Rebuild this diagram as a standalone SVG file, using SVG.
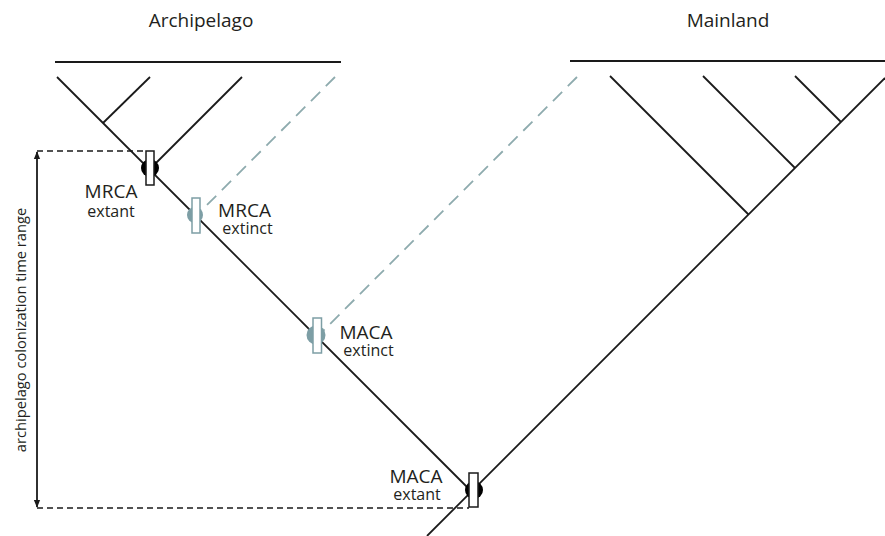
<svg xmlns="http://www.w3.org/2000/svg" width="885" height="536" viewBox="0 0 885 536">
<style>
.ln{stroke:#1a1a1a;stroke-width:1.8;fill:none;stroke-linecap:butt}
.dk{stroke:#1a1a1a;stroke-width:1.6;fill:none;stroke-dasharray:6 4}
.tl{stroke:#8eabae;stroke-width:1.8;fill:none;stroke-dasharray:13 8}
.t{font-family:"Open Sans","Liberation Sans",sans-serif;fill:#231f20}
.big{font-size:19px}
.sm{font-size:16px}
.ttl{font-size:19px}
.rx{fill:#ffffff;stroke-width:1.5}
</style>
<defs>
<marker id="ah" viewBox="0 0 10 10" refX="9" refY="5" markerWidth="8" markerHeight="8" orient="auto-start-reverse" markerUnits="userSpaceOnUse">
<path d="M0,1 L10,5 L0,9 Z" fill="#1a1a1a"/>
</marker>
</defs>
<rect width="885" height="536" fill="#ffffff"/>
<g id="connectors">
<line class="ln" x1="55" y1="62" x2="341" y2="62"/>
<line class="ln" x1="570" y1="61" x2="885" y2="61"/>
<line class="ln" x1="57" y1="77" x2="470" y2="490"/>
<line class="ln" x1="103" y1="123" x2="150" y2="77"/>
<line class="ln" x1="242" y1="77" x2="150" y2="169"/>
<line class="tl" x1="335" y1="77" x2="200" y2="212"/>
<line class="tl" x1="577" y1="77" x2="322" y2="332"/>
<line class="ln" x1="885" y1="78" x2="427" y2="536"/>
<line class="ln" x1="610" y1="76" x2="748.5" y2="214.5"/>
<line class="ln" x1="703" y1="76" x2="795" y2="168"/>
<line class="ln" x1="795" y1="76" x2="841" y2="122"/>
<line class="dk" x1="37" y1="151" x2="146" y2="151"/>
<line class="dk" x1="37" y1="508" x2="469" y2="508"/>
<line class="ln" x1="37" y1="152" x2="37" y2="507" stroke-width="1.4" marker-start="url(#ah)" marker-end="url(#ah)"/>
</g>
<g id="title-archipelago"><text class="t ttl" x="201" y="27" text-anchor="middle">Archipelago</text></g>
<g id="title-mainland"><text class="t ttl" x="728" y="27" text-anchor="middle">Mainland</text></g>
<g id="axis-label"><text class="t" font-size="14.7" transform="translate(26,330) rotate(-90)" text-anchor="middle">archipelago colonization time range</text></g>
<g id="mrca-extant">
<circle cx="150" cy="168" r="9" fill="#000000"/>
<rect class="rx" x="146" y="151" width="8" height="34" stroke="#1a1a1a"/>
<text class="t" text-anchor="middle"><tspan class="big" x="111" y="198">MRCA</tspan><tspan class="sm" x="111" y="217">extant</tspan></text>
</g>
<g id="mrca-extinct">
<circle cx="195" cy="215" r="8" fill="#7d9ea5"/>
<rect class="rx" x="192" y="198" width="8" height="35" stroke="#7d9ea5"/>
<text class="t" text-anchor="middle"><tspan class="big" x="244.5" y="217">MRCA</tspan><tspan class="sm" x="247.5" y="234">extinct</tspan></text>
</g>
<g id="maca-extinct">
<circle cx="316" cy="335" r="9.5" fill="#7d9ea5"/>
<rect class="rx" x="313" y="318" width="8.5" height="35" stroke="#7d9ea5"/>
<text class="t" text-anchor="middle"><tspan class="big" x="366" y="339">MACA</tspan><tspan class="sm" x="368.5" y="356">extinct</tspan></text>
</g>
<g id="maca-extant">
<circle cx="474" cy="490" r="9" fill="#000000"/>
<rect class="rx" x="469" y="473" width="9" height="34" stroke="#1a1a1a"/>
<text class="t" text-anchor="middle"><tspan class="big" x="416" y="483">MACA</tspan><tspan class="sm" x="417" y="500">extant</tspan></text>
</g>
</svg>
